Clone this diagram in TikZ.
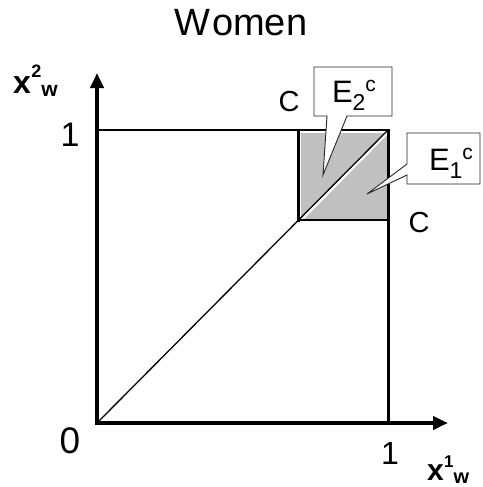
\documentclass[tikz,border=0pt]{standalone}
\usepackage{fontspec}
\setmainfont{Liberation Sans}
\usetikzlibrary{arrows.meta}
\definecolor{boxgray}{HTML}{C0C0C0}
\begin{document}
\begin{tikzpicture}[x=1pt,y=-1pt,
  axisline/.style={line width=4pt, line join=miter,
    {Triangle[width=13pt,length=15pt]}-{Triangle[width=13pt,length=15pt]}},
  thinframe/.style={line width=2pt, line cap=rect},
  thickframe/.style={line width=3pt, line cap=rect},
  callout/.style={fill=white, draw=black!85, line width=0.9pt, line join=miter},
  lbl/.style={inner sep=0pt, outer sep=0pt},
  num/.style={lbl, font=\fontsize{34}{34}\selectfont},
  cl/.style={lbl, font=\fontsize{29}{29}\selectfont}]
\useasboundingbox (0,0) rectangle (482,487);
% key points
\coordinate (O) at (97,423);
\coordinate (YT) at (97,73);
\coordinate (XT) at (448,423);
\coordinate (TL) at (97,130);
\coordinate (TR) at (388,130);
\coordinate (BR) at (388,423);
\coordinate (BL) at (298,220);
\coordinate (BT) at (298,130);
\coordinate (BB) at (388,220);
% shaded region
\fill[boxgray] (301,133) rectangle (387,219);
\begin{scope}
  \clip (301,133) rectangle (387,219);
  \draw[white, line width=2.6pt] (299.6,221.6) -- (389.6,130.6);
\end{scope}
% frame lines
\draw[thinframe] (TL) -- (TR);
\draw[thickframe] (TR) -- (BR);
\draw[thickframe] (BT) -- (BL);
\draw[thinframe] (BL) -- (BB);
\draw[line width=1.3pt] (O) -- (TR);
% axes
\draw[axisline] (YT) -- (O) -- (XT);
% callouts
\draw[callout] (314,67) -- (392,67) -- (392,116) -- (347,116) -- (323,175) -- (327,116) -- (314,116) -- cycle;
\draw[callout] (407,133) -- (480,133) -- (480,184) -- (407,184) -- (407,175) -- (367,194) -- (407,164) -- cycle;
\node[lbl, anchor=base west, font=\fontsize{31}{31}\selectfont] (e2) at (332,102)
  {E\raisebox{-8pt}{\fontsize{23}{23}\selectfont 2}\raisebox{11pt}{\fontsize{21}{21}\selectfont c}};
\node[lbl, anchor=base west, font=\fontsize{31}{31}\selectfont] (e1) at (429,170)
  {E\raisebox{-8pt}{\fontsize{23}{23}\selectfont 1}\raisebox{11pt}{\fontsize{21}{21}\selectfont c}};
% labels
\node[lbl, anchor=base, font=\fontsize{38}{38}\selectfont] (title) at (241,36) {W\kern1.5pt omen};
\node[cl] (c1) at (289,102) {C};
\node[cl] (c2) at (419,223) {C};
\node[num, anchor=base] (one1) at (70,146) {1};
\node[lbl, anchor=base, font=\fontsize{37}{37}\selectfont] (zero) at (70,453) {0};
\node[lbl, anchor=base, font=\fontsize{32}{32}\selectfont] (one2) at (390,464) {1};
\node[lbl, anchor=base west, font=\fontsize{32}{32}\selectfont\bfseries] (ylab) at (13,93)
  {x\kern0.5pt\raisebox{16pt}{\fontsize{18}{18}\selectfont 2}\raisebox{-3pt}{\fontsize{21}{21}\selectfont w}};
\node[lbl, anchor=base west, font=\fontsize{30}{30}\selectfont\bfseries] (xlab) at (427,480)
  {x\kern0.5pt\raisebox{13pt}{\fontsize{17}{17}\selectfont 1}\raisebox{-3pt}{\fontsize{20}{20}\selectfont w}};
\end{tikzpicture}
\end{document}
